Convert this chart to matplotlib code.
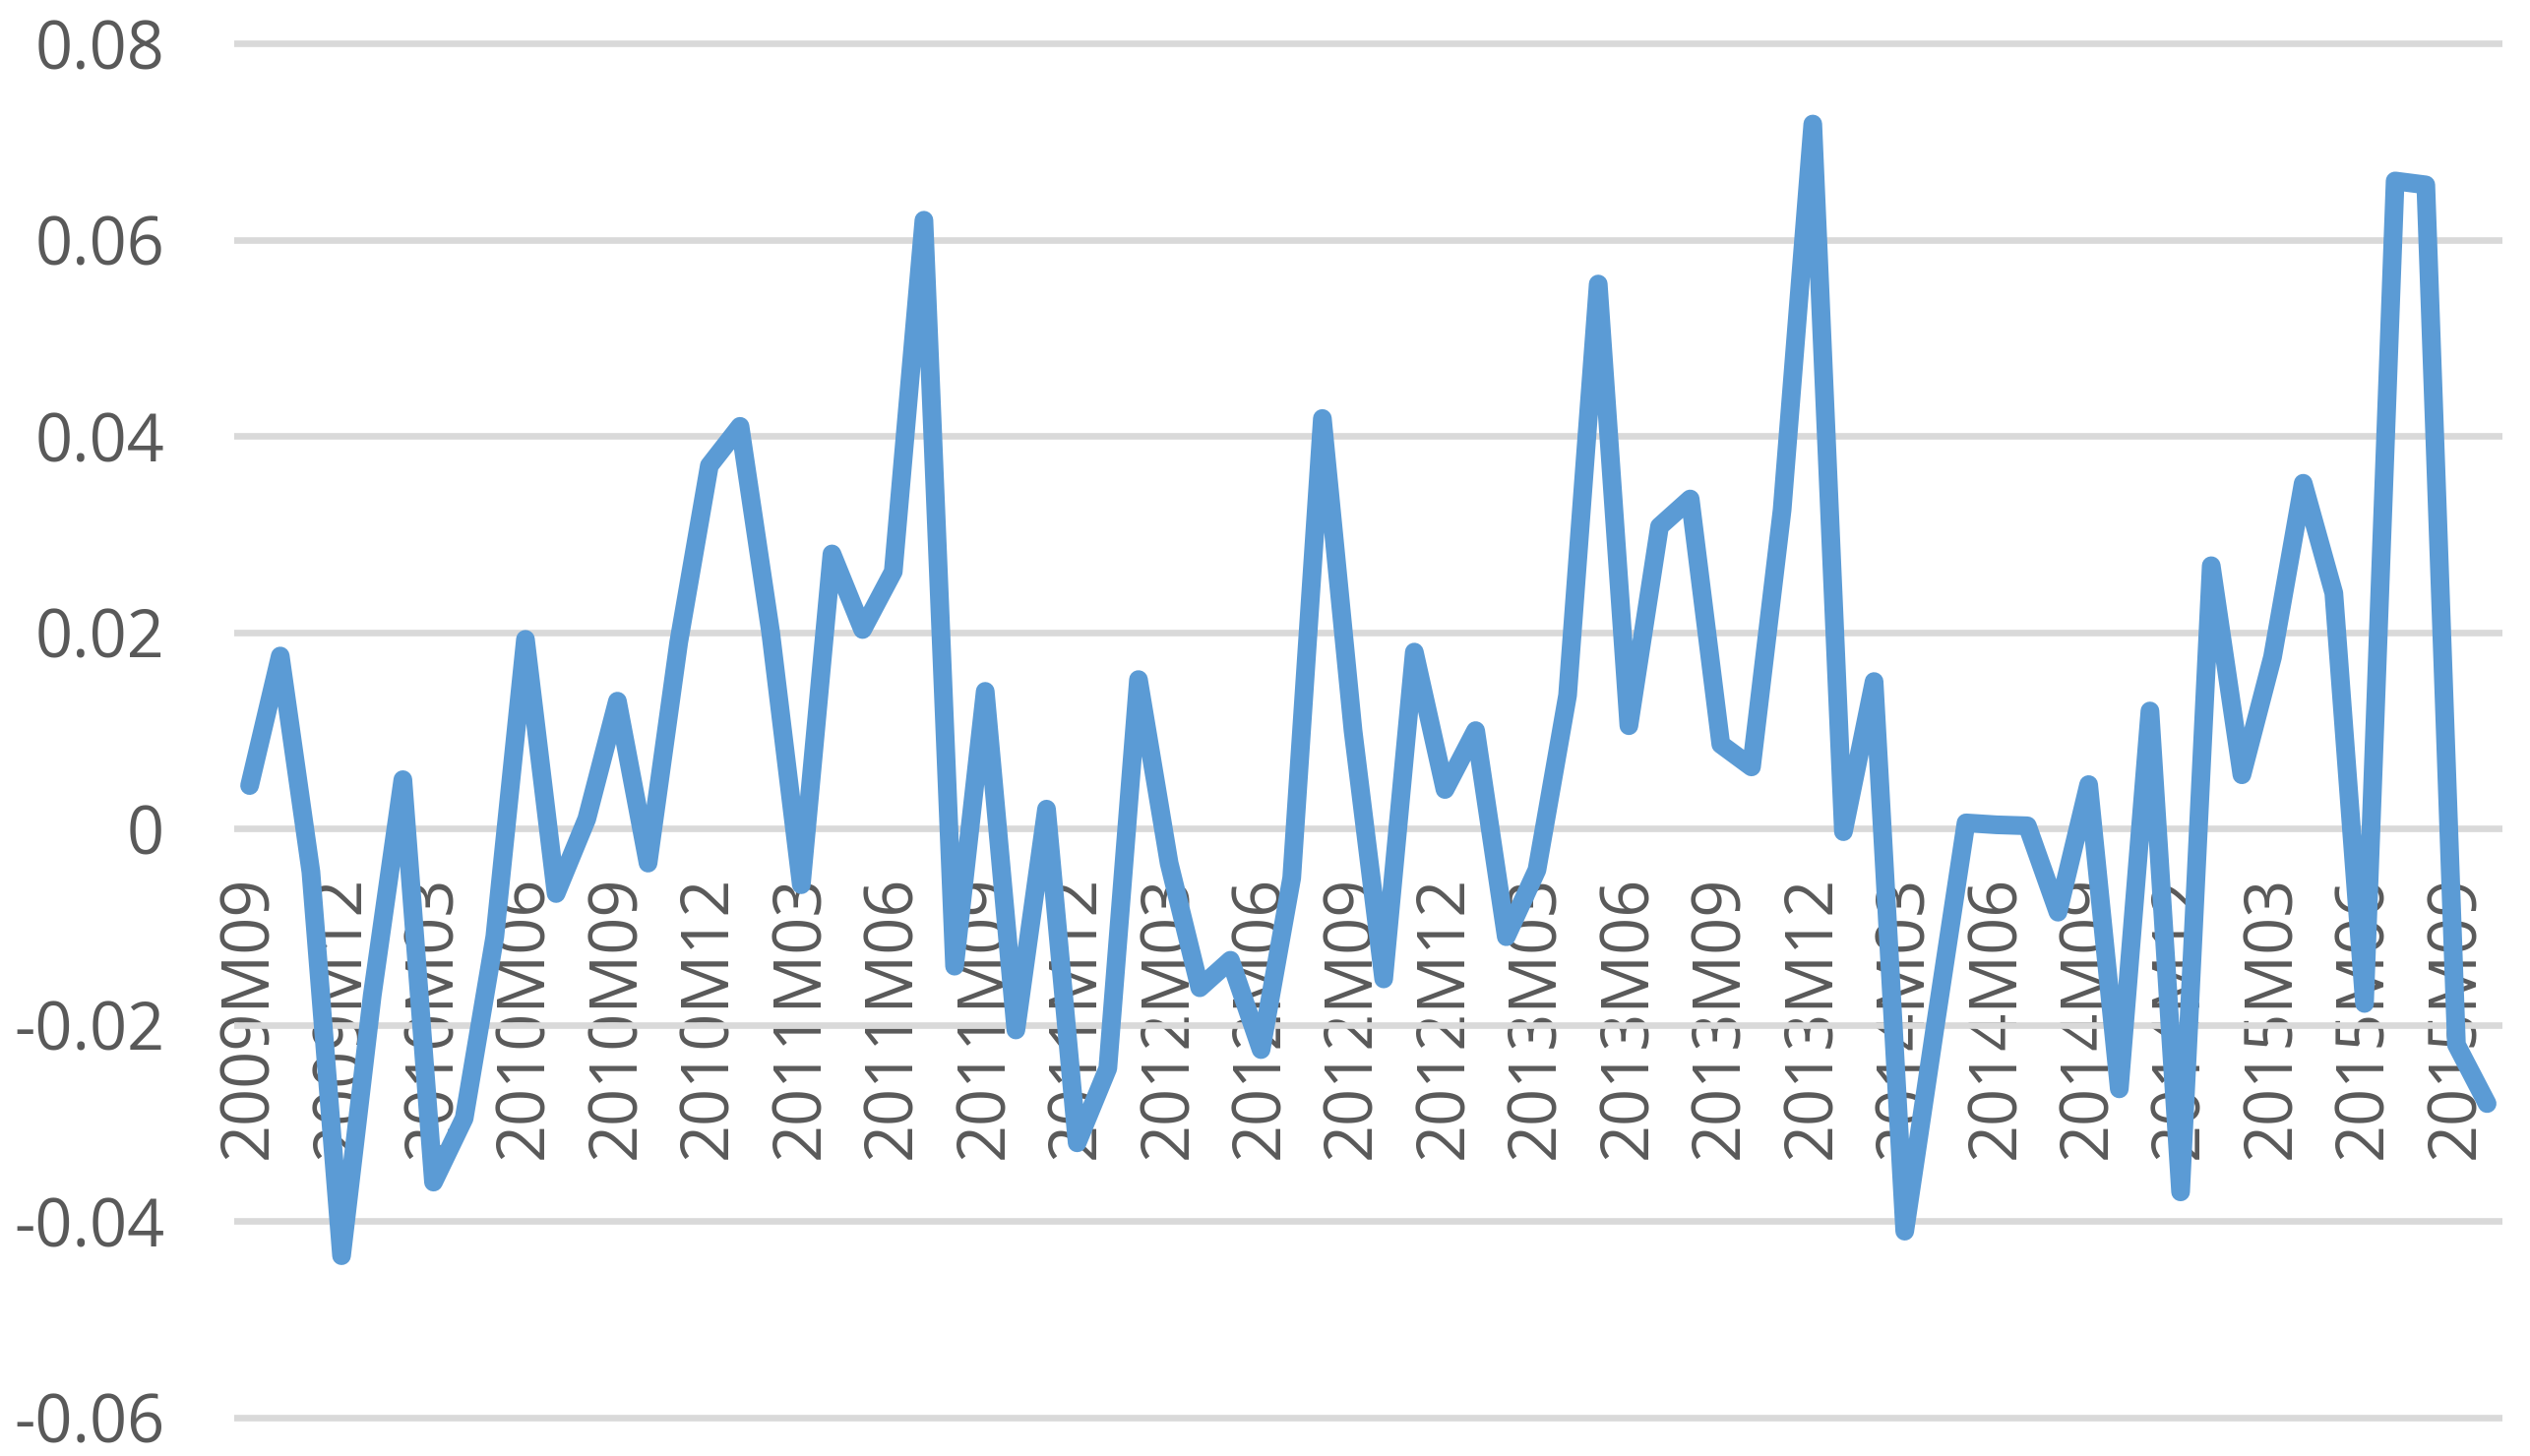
import matplotlib
matplotlib.use("Agg")
import matplotlib.pyplot as plt
import numpy as np

# monthly series, 2009M09 .. 2015M10
start_year = 2009
start_month = 9
values = [
    0.0044, 0.0176, -0.0044, -0.0435, -0.017, 0.005, -0.036, -0.0295, -0.011, 0.0193,
    -0.0066, 0.001, 0.013, -0.0035, 0.019, 0.037, 0.041, 0.020, -0.0057, 0.028,
    0.0203, 0.0262, 0.062, -0.014, 0.014, -0.0205, 0.002, -0.032, -0.0244, 0.0152,
    -0.0035, -0.0162, -0.0134, -0.0225, -0.005, 0.0418, 0.010, -0.0153, 0.018, 0.004,
    0.010, -0.011, -0.0042, 0.0136, 0.0555, 0.0105, 0.0308, 0.0336, 0.0086, 0.0063,
    0.0325, 0.0718, -0.0003, 0.015, -0.041, -0.020, 0.0006, 0.0004, 0.0003, -0.0085,
    0.0045, -0.0265, 0.012, -0.037, 0.0268, 0.0055, 0.0175, 0.0352, 0.024, -0.0178,
    0.066, 0.0656, -0.022, -0.028,
]

categories = []
y, m = start_year, start_month
for _ in values:
    categories.append(f"{y}M{m:02d}")
    m += 1
    if m > 12:
        m = 1
        y += 1

y_ticks = [-0.06, -0.04, -0.02, 0, 0.02, 0.04, 0.06, 0.08]
y_labels = ["-0.06", "-0.04", "-0.02", "0", "0.02", "0.04", "0.06", "0.08"]

plt.rcParams['font.family'] = ['Open Sans', 'DejaVu Sans']
text_color = '#595959'

fig = plt.figure(figsize=(25.71, 14.80), dpi=100)
ax = fig.add_axes([0.0926, 0.02297, 0.9891 - 0.0926, 0.97345 - 0.02297])

# axis sits on y=0 like excel; do this before the tick labels (it resets ticks)
for s in ['top', 'right', 'left']:
    ax.spines[s].set_visible(False)
ax.spines['bottom'].set_position(('data', 0))
ax.spines['bottom'].set_color('none')

x = np.arange(len(values))
ax.plot(x, values, color='#5B9BD5', linewidth=13.7,
        solid_joinstyle='round', solid_capstyle='round', zorder=3)

ax.set_xlim(-0.5, len(values) - 0.5)
ax.set_ylim(-0.0605, 0.0805)

ax.set_yticks(y_ticks)
ax.set_yticklabels(y_labels)
tick_pos = x[::3]
ax.set_xticks(tick_pos)
ax.set_xticklabels([categories[i] for i in tick_pos], rotation=90, va='top', ha='center')

ax.grid(axis='y', color='#D9D9D9', linewidth=4.8)
ax.set_axisbelow(True)

ax.tick_params(axis='both', length=0, labelsize=48, colors=text_color)
ax.tick_params(axis='x', pad=34)
ax.tick_params(axis='y', pad=51)

fig.savefig('out.png', dpi=100)
